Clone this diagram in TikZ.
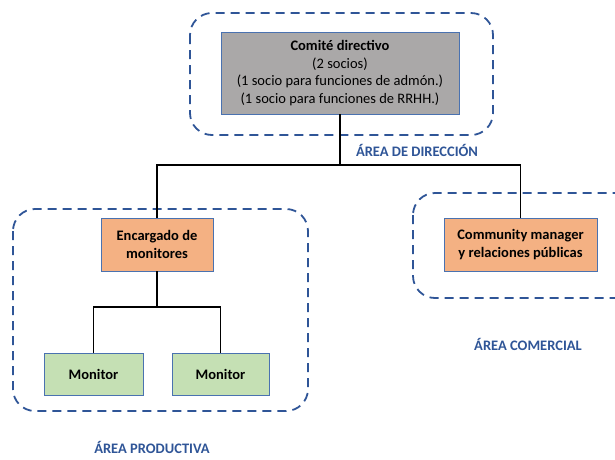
\documentclass[tikz,border=0pt]{standalone}
\usepackage{fontspec}
\setmainfont{Carlito}
\usepackage{tikz}

\definecolor{azul}{HTML}{2F5597}
\definecolor{borde}{HTML}{4A72B0}
\definecolor{gris}{HTML}{AAA8A8}
\definecolor{naranja}{HTML}{F4B183}
\definecolor{verde}{HTML}{C5E0B4}

\begin{document}
\begin{tikzpicture}[x=1pt,y=-1pt,
    caja/.style={draw=borde,line width=0.9pt,align=center,inner sep=2pt,font=\fontsize{14.5}{17.5}\selectfont\bfseries},
    zona/.style={draw=azul,line width=1.8pt,dash pattern=on 9pt off 6pt,rounded corners=22pt},
    rotulo/.style={text=azul,inner sep=0pt,anchor=base,font=\fontsize{14.5}{16}\selectfont\bfseries},
    linea/.style={draw=black,line width=1.5pt}]
    \useasboundingbox (0,0) rectangle (615,459);
    \clip (0,0) rectangle (615,459);

    % zonas
    \draw[zona] (190,13) rectangle (493,135);
    \draw[zona] (13,209) rectangle (308,411);
    \draw[zona] (413,193) rectangle (640,298);

    \node[rotulo] (dir) at (417,156.5) {ÁREA DE DIRECCIÓN};
    \node[rotulo] (prod) at (152,453) {ÁREA PRODUCTIVA};
    \node[rotulo] (com) at (528,350) {ÁREA COMERCIAL};

    % cajas
    \node[caja,fill=gris,minimum width=238pt,minimum height=82pt] (comite) at (340,73)
        {Comité directivo\\ \mdseries(2 socios)\\ \mdseries(1 socio para funciones de admón.)\\ \mdseries(1 socio para funciones de RRHH.)};
    \node[caja,fill=naranja,minimum width=112pt,minimum height=53pt] (encargado) at (157,244.5) {Encargado de\\ monitores};
    \node[caja,fill=naranja,minimum width=153pt,minimum height=53pt] (community) at (520.5,244.5) {Community manager\\ y relaciones públicas};
    \node[caja,fill=verde,minimum width=99pt,minimum height=42pt] (mon1) at (93.5,374) {Monitor};
    \node[caja,fill=verde,minimum width=97pt,minimum height=42pt] (mon2) at (220.5,374) {Monitor};

    \coordinate (bus) at (340,165);
    \coordinate (sub) at (157,307);

    \draw[linea] (comite) -- (bus) -| (encargado);
    \draw[linea] (bus) -| (community);
    \draw[linea] (encargado) -- (sub) -| (mon1);
    \draw[linea] (sub) -| (mon2);
\end{tikzpicture}
\end{document}
